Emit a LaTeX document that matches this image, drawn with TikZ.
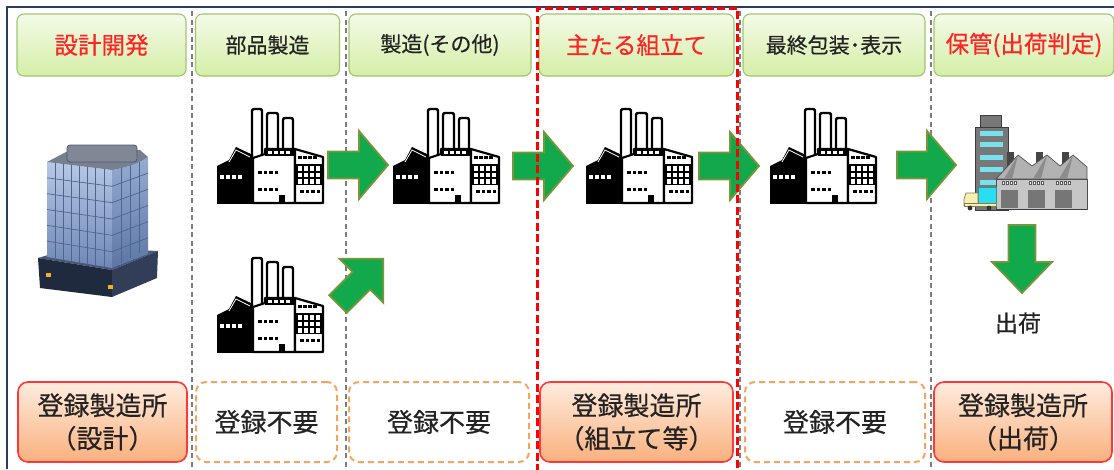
\documentclass[tikz,border=0pt]{standalone}
\usepackage{fontspec}
\newfontfamily\jp{Noto Sans CJK JP}[FakeBold=0.45]
\definecolor{frameblue}{RGB}{40,60,100}
\definecolor{sepgray}{RGB}{125,125,125}
\definecolor{hdrline}{RGB}{160,196,112}
\definecolor{hdrtop}{RGB}{244,251,232}
\definecolor{hdrbot}{RGB}{212,238,166}
\definecolor{hdrred}{RGB}{255,35,35}
\definecolor{txt}{RGB}{35,35,35}
\definecolor{regline}{RGB}{255,55,55}
\definecolor{regtop}{RGB}{255,236,222}
\definecolor{regbot}{RGB}{249,176,126}
\definecolor{freeline}{RGB}{245,165,95}
\definecolor{arrowfill}{RGB}{18,168,76}
\definecolor{arrowline}{RGB}{122,150,58}
\definecolor{glassA}{RGB}{182,200,230}
\definecolor{glassB}{RGB}{110,136,182}
\definecolor{glassC}{RGB}{150,172,210}
\definecolor{glassD}{RGB}{92,118,165}
\definecolor{gridline}{RGB}{80,100,140}
\definecolor{wincyan}{RGB}{120,225,235}

% block arrow: tail x, tail y, angle, length, shaft half width, head length, head half width
\newcommand\blockarrow[7]{%
  \draw[greenarrow, shift={(#1,#2)}, rotate=#3]
    (0,-#5) -- ({#4-#6},-#5) -- ({#4-#6},-#7) -- (#4,0) -- ({#4-#6},#7)
    -- ({#4-#6},#5) -- (0,#5) -- cycle;}

\begin{document}
\begin{tikzpicture}[x=1pt,y=-1pt,
  greenarrow/.style={fill=arrowfill, draw=arrowline, line width=1.8pt, line join=miter},
  hdr/.style={draw=hdrline, line width=1.1pt, rounded corners=7pt,
    top color=hdrtop, bottom color=hdrbot, minimum height=62pt, inner sep=0pt,
    text=txt, font=\jp\fontsize{21}{25}\selectfont},
  hdrhot/.style={hdr, text=hdrred, font=\jp\fontsize{23.5}{28}\selectfont},
  regbox/.style={draw=regline, line width=1.6pt, rounded corners=10pt,
    top color=regtop, bottom color=regbot, minimum height=80pt, inner sep=0pt,
    align=center, text=txt, font=\jp\fontsize{26}{33}\selectfont},
  freebox/.style={draw=freeline, line width=2pt, dash pattern=on 6pt off 4pt,
    rounded corners=10pt, fill=white, minimum height=80pt, inner sep=0pt,
    text=txt, font=\jp\fontsize{26}{33}\selectfont},
  sep/.style={draw=sepgray, line width=1.2pt, dash pattern=on 5pt off 3.5pt},
  factory/.pic={
    % smokestacks
    \foreach \xa/\xb/\ya/\yb in {35/45/1/50, 50/61/5/48, 66/76/10/44}
      \draw[line width=2.4pt, fill=white, rounded corners=2pt] (\xa,\yb) -- (\xa,\ya) -- (\xb,\ya) -- (\xb,\yb);
    % dark left wing with its gable roof
    \fill (0,58) -- (12,52) -- (19,39) -- (36,47) -- (36,95) -- (0,95) -- cycle;
    \draw[white, line width=0.8pt] (12,54) -- (19,42) -- (33,49);
    \foreach \xx in {3,9,15,21} \fill[white] (\xx,67) rectangle ++(4,3.5);
    % main facade and right wing
    \draw[line width=2.2pt, fill=white, line join=round] (36,50) -- (48,46) -- (48,41) -- (78,41) -- (78,95) -- (36,95) -- cycle;
    \draw[line width=2.2pt, fill=white, line join=round] (78,41) -- (106,49) -- (106,95) -- (78,95) -- cycle;
    \fill (48,41) rectangle (78,48);
    \foreach \xx in {51,57,63,69} \fill[white] (\xx,43) rectangle ++(3.5,3);
    \foreach \xx in {81,86,91,96} \fill (\xx,48) rectangle ++(3.5,3);
    % glazed section
    \fill (79,56) rectangle (105,77);
    \foreach \i in {0,1,2,3} \foreach \j in {0,1,2}
      \fill[white] (81+6*\i,58+6.5*\j) rectangle ++(4.3,4.6);
    % window rows
    \foreach \xx in {41,46.5,52,57.5} {\fill (\xx,63) rectangle ++(3.5,3); \fill (\xx,80) rectangle ++(3.5,3);}
    \foreach \xx in {83,88.5,94,99.5} \fill (\xx,82) rectangle ++(3.5,3);
    % door and ground line
    \fill (62,87) rectangle (68,95);
    \draw[line width=2.8pt] (0,95) -- (106,95);
  }]
\useasboundingbox (0,0) rectangle (1114,469);

% frame lines
\draw[frameblue, line width=1.2pt] (7,469) -- (7,7) -- (1114,7);

% column separators
\foreach \xx in {192,346,740,931} \draw[sep] (\xx,11) -- (\xx,469);

% stage headers
\node[hdrhot, minimum width=169pt] (h1) at (101.5,45) {設計開発};
\node[hdr,    minimum width=144pt] (h2) at (267.5,45) {部品製造};
\node[hdr,    minimum width=182pt] (h3) at (440,45)   {製造(その他)};
\node[hdrhot, minimum width=195pt] (h4) at (636.5,45) {主たる組立て};
\node[hdr,    minimum width=182pt] (h5) at (834,45)   {最終包装･表示};
\node[hdrhot, minimum width=180pt] (h6) at (1024,45)  {保管(出荷判定)};

% registration boxes
\node[regbox,  minimum width=169pt] (b1) at (102.5,422) {登録製造所\\（設計）};
\node[freebox, minimum width=141pt] (b2) at (266.5,422) {登録不要};
\node[freebox, minimum width=180pt] (b3) at (439,422)   {登録不要};
\node[regbox,  minimum width=193pt] (b4) at (636.5,422) {登録製造所\\（組立て等）};
\node[freebox, minimum width=180pt] (b5) at (835,422)   {登録不要};
\node[regbox,  minimum width=178pt] (b6) at (1023,422)  {登録製造所\\（出荷）};

% office tower (design)
\begin{scope}
  \fill[fill={rgb,255:red,72;green,88;blue,120}] (38,258) -- (75,247) -- (158,251) -- (112,270) -- cycle;
  \fill[fill={rgb,255:red,32;green,42;blue,62}] (38,258) -- (112,270) -- (112,297) -- (40,288) -- cycle;
  \fill[fill={rgb,255:red,50;green,62;blue,88}] (112,270) -- (158,251) -- (157,278) -- (112,297) -- cycle;
  \fill[fill={rgb,255:red,240;green,176;blue,32}] (46,273) rectangle (51,277);
  \fill[fill={rgb,255:red,240;green,176;blue,32}] (108,285) rectangle (113,289);
  % glass faces
  \shade[top color=glassA, bottom color=glassB] (47,162) -- (112,170) -- (112,268) -- (47,257) -- cycle;
  \shade[top color=glassC, bottom color=glassD] (112,170) .. controls (126,168) and (140,163) .. (148,157) -- (148,254) -- (112,268) -- cycle;
  \foreach \k in {1,...,7}
    \draw[gridline, line width=0.7pt] ({47+65*\k/8},{162+\k}) -- ({47+65*\k/8},{257+11*\k/8});
  \foreach \j in {1,...,5} {
    \draw[gridline, line width=0.7pt] (47,{162+95*\j/6}) -- (112,{170+98*\j/6});
    \draw[gridline, line width=0.7pt] (112,{170+98*\j/6}) -- (148,{157+97*\j/6});
  }
  \foreach \k in {1,2,3}
    \draw[gridline, line width=0.7pt] ({112+9*\k},{170-3*\k}) -- ({112+9*\k},{268-5*\k});
  % roof
  \fill[fill={rgb,255:red,118;green,128;blue,144}] (47,162) -- (66,152) -- (140,150) -- (148,157) .. controls (140,163) and (126,168) .. (112,170) -- cycle;
  \draw[fill={rgb,255:red,128;green,136;blue,150}, draw={rgb,255:red,80;green,88;blue,102}, rounded corners=3pt, line width=0.8pt] (67,145) rectangle (137,162);
\end{scope}

% factories
\coordinate (f1) at (217,108);
\coordinate (f2) at (217,257);
\coordinate (f3) at (393,108);
\coordinate (f4) at (586,108);
\coordinate (f5) at (770,108);
\foreach \f in {f1,f2,f3,f4,f5} \pic at (\f) {factory};

% warehouse with office block and truck
\begin{scope}[line width=0.7pt]
  \draw[draw={rgb,255:red,60;green,60;blue,60}, fill={rgb,255:red,120;green,120;blue,120}] (980,115) rectangle (1001,128);
  \draw[draw={rgb,255:red,60;green,60;blue,60}, fill={rgb,255:red,120;green,120;blue,120}] (975,127) rectangle (1008,210);
  \foreach \yy in {131,142,155,167,180} \fill[wincyan] (980,\yy) rectangle (1003,\yy+4.5);
  \foreach \xx in {1007,1036,1062} \fill[fill={rgb,255:red,70;green,70;blue,70}] (\xx,152) rectangle (\xx+7,168);
  \draw[draw={rgb,255:red,80;green,80;blue,80}, fill={rgb,255:red,178;green,178;blue,178}, line join=round]
    (996,179) -- (1018,155) -- (1032,166) -- (1047,155) -- (1060,166) -- (1073,155) -- (1087,167) -- (1087,179) -- cycle;
  \foreach \xx in {1018,1047,1073}
    \fill[fill={rgb,255:red,140;green,140;blue,140}] (\xx,155) -- (\xx-14,179) -- (\xx-6,179) -- cycle;
  \draw[draw={rgb,255:red,80;green,80;blue,80}, fill={rgb,255:red,198;green,198;blue,198}] (996,179) rectangle (1087,209);
  \foreach \xx in {1001,1028,1055} {
    \fill[fill={rgb,255:red,118;green,118;blue,118}] (\xx,190) rectangle (\xx+17,208);
    \foreach \w in {0,4,8,12} \draw[draw={rgb,255:red,90;green,90;blue,90}, fill=white, line width=0.4pt] (\xx+\w+1,181.5) rectangle ++(2.6,2.4);
  }
  \draw[line width=1.2pt, draw={rgb,255:red,60;green,60;blue,60}] (996,209.5) -- (1087,209.5);
  % truck
  \draw[draw={rgb,255:red,60;green,140;blue,150}, fill={rgb,255:red,40;green,222;blue,240}] (978,187) rectangle (996,203);
  \draw[draw={rgb,255:red,130;green,125;blue,80}, fill={rgb,255:red,245;green,240;blue,178}] (966,193) -- (978,193) -- (978,206) -- (964,206) -- (964,199) -- cycle;
  \draw[draw={rgb,255:red,130;green,125;blue,80}, fill={rgb,255:red,245;green,240;blue,178}] (964,203) rectangle (996,206.5);
  \fill[fill={rgb,255:red,50;green,50;blue,50}] (970,208) circle (2.4) (989,208) circle (2.4);
\end{scope}

% flow arrows
\blockarrow{328}{165}{0}{60}{13.5}{29}{34}
\blockarrow{513}{166}{0}{60}{13.5}{29}{34}
\blockarrow{699}{166}{0}{60}{13.5}{29}{34}
\blockarrow{897}{165}{0}{59}{13.5}{29}{34}
\blockarrow{338}{304}{45}{64}{12.5}{31}{31}
\blockarrow{1022}{225}{-90}{68}{13.5}{31}{30}

\node[text=txt, font=\jp\fontsize{23}{27}\selectfont, inner sep=0pt] (ship) at (1018,323) {出荷};

% main assembly stage highlight
\draw[draw={rgb,255:red,255;green,0;blue,0}, line width=3pt, dash pattern=on 8pt off 3.5pt]
  (537,472) -- (537,8) -- (737,8) -- (737,472);
\end{tikzpicture}
\end{document}
